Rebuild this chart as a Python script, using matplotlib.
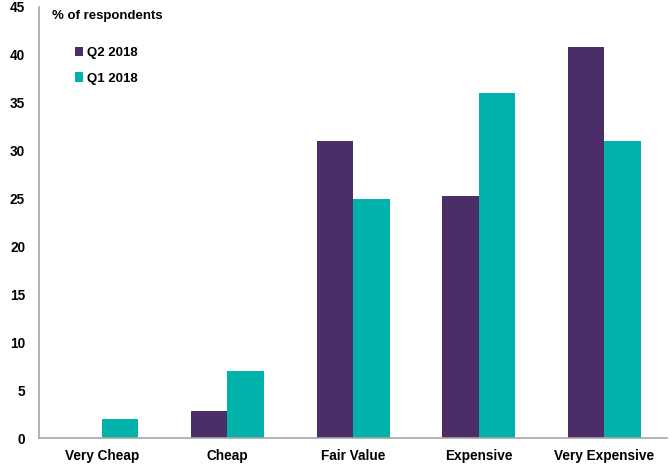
import numpy as np
import matplotlib
matplotlib.use("Agg")
import matplotlib.pyplot as plt

categories = ["Very Cheap", "Cheap", "Fair Value", "Expensive", "Very Expensive"]
q2_2018 = [0, 2.8, 31, 25.3, 40.8]
q1_2018 = [2, 7, 25, 36, 31]
y_ticks = [0, 5, 10, 15, 20, 25, 30, 35, 40, 45]

purple = "#4B2E67"
teal = "#00B2A9"

plt.rcParams["font.family"] = ["Liberation Sans", "DejaVu Sans"]
plt.rcParams["font.weight"] = "bold"

fig = plt.figure(figsize=(6.72, 4.66), dpi=100)
ax = fig.add_axes([0.058, 0.060, 0.935, 0.925])

x = np.arange(len(categories))
w = 0.29
ax.bar(x - w / 2, q2_2018, w, color=purple, label="Q2 2018")
ax.bar(x + w / 2, q1_2018, w, color=teal, label="Q1 2018")

ax.set_xlim(-0.5, len(categories) - 0.5)
ax.set_ylim(0, 45)
ax.set_yticks(y_ticks)
ax.set_xticks(x)
ax.set_xticklabels(categories)
ax.tick_params(axis="both", length=0, labelsize=9.8)
ax.tick_params(axis="x", pad=8)
ax.tick_params(axis="y", pad=10)
for lbl in ax.get_xticklabels() + ax.get_yticklabels():
    lbl.set_fontweight("bold")

for s in ["top", "right"]:
    ax.spines[s].set_visible(False)
for s in ["left", "bottom"]:
    ax.spines[s].set_color("#A6A6A6")
    ax.spines[s].set_linewidth(1.2)

ax.text(0.02, 0.993, "% of respondents", transform=ax.transAxes,
        fontsize=9.5, fontweight="bold", va="top", ha="left")

ax.legend(loc="upper left", bbox_to_anchor=(0.038, 0.935), frameon=False,
          handlelength=0.6, handleheight=0.7, handletextpad=0.3,
          labelspacing=1.0, prop={"size": 9.5, "weight": "bold"})

fig.savefig("out.png", dpi=100)
